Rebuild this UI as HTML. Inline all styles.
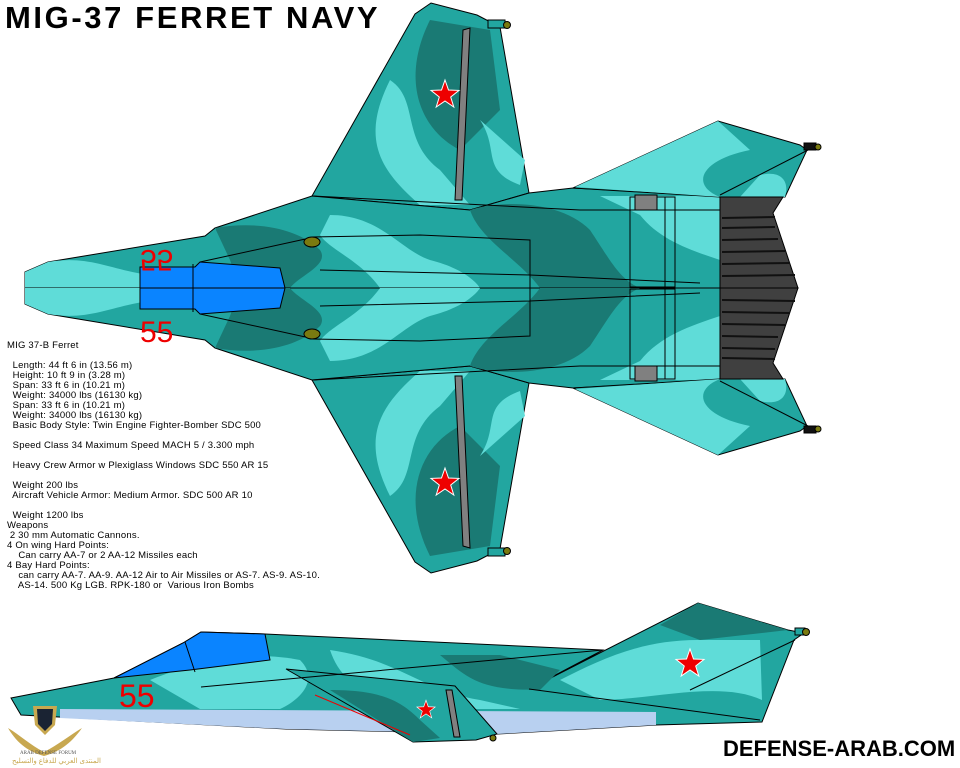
<!DOCTYPE html>
<html><head><meta charset="utf-8"><style>
body{margin:0;background:#fff;width:960px;height:768px;overflow:hidden;position:relative;font-family:"Liberation Sans",sans-serif}
.t{position:absolute;left:0;top:0}
#title{position:absolute;left:5px;top:0px;font:bold 31px "Liberation Sans",sans-serif;letter-spacing:2.6px;color:#000}
#site{position:absolute;left:723px;top:736px;font:bold 22px "Liberation Sans",sans-serif;color:#000}
#spec{position:absolute;left:7px;top:341px;font:9.5px/10px "Liberation Sans",sans-serif;letter-spacing:0.2px;color:#000;white-space:pre}
</style></head><body>
<svg class="t" width="960" height="768" viewBox="0 0 960 768">
<defs>
<g id="half" stroke="#000" stroke-width="1">
 <polygon points="312,196 415,14 431,3 477,15 500,27 529,193 470,210" fill="#22a6a0"/>
 <path d="M430,20 C400,80 420,130 460,150 L500,110 L490,30Z" fill="#1a7a74" stroke="none"/>
 <path d="M390,80 C420,100 400,140 440,170 L470,205 L420,205 C380,170 360,140 390,80Z" fill="#5fdcd8" stroke="none"/>
 <path d="M480,120 C500,150 480,170 520,185 L525,160Z" fill="#5fdcd8" stroke="none"/>
 <polygon points="463,30 470,28 462,200 455,200" fill="#808080"/>
 <polygon points="25,288 25,272 48,262 205,236 215,228 312,196 470,210 529,193 573,188 720,196 720,288" fill="#22a6a0"/>
 <path d="M48,262 C90,255 110,270 150,275 L140,288 L25,288 25,272Z" fill="#5fdcd8" stroke="none"/>
 <path d="M215,228 C260,220 300,230 320,250 C330,265 300,275 290,288 L240,288 L230,260Z" fill="#1a7a74" stroke="none"/>
 <path d="M330,215 C380,215 400,250 430,260 C470,270 480,288 480,288 L380,288 C360,260 330,250 320,235Z" fill="#5fdcd8" stroke="none"/>
 <path d="M470,210 C500,200 560,200 590,230 C610,260 620,280 640,288 L540,288 C520,260 480,240 470,210Z" fill="#1a7a74" stroke="none"/>
 <path d="M600,196 L720,196 L720,260 C690,250 660,240 640,215Z" fill="#5fdcd8" stroke="none"/>
 <polygon points="140,288 140,267 195,267 200,262 280,268 285,288" fill="#0a84ff"/>
 <line x1="193" y1="264" x2="193" y2="288"/>
 <polyline points="312,237 420,235 530,240 530,288" fill="none"/>
 <polyline points="320,270 530,275 700,283" fill="none"/>
 <rect x="630" y="197" width="45" height="90" fill="none"/>
 <rect x="635" y="195" width="22" height="15" fill="#808080"/>
 <line x1="665" y1="197" x2="665" y2="288"/>
 <polyline points="313,196 580,210 720,210" fill="none"/>
 <polyline points="310,238 200,262" fill="none"/>
 <ellipse cx="312" cy="242" rx="8" ry="5" fill="#7a7a10"/>
 <polygon points="573,188 718,121 800,145 807,150 785,197 720,197" fill="#22a6a0"/>
 <path d="M575,187 L718,121 L750,150 C700,160 690,185 720,197Z" fill="#5fdcd8" stroke="none"/>
 <path d="M760,175 C780,170 790,180 785,197 L740,197Z" fill="#5fdcd8" stroke="none"/>
 <line x1="808" y1="150" x2="720" y2="195"/>
 <rect x="804" y="143" width="12" height="7" fill="#111"/>
 <circle cx="818" cy="147" r="3" fill="#7a7a10"/>
 <polygon points="488,20 505,20 505,28 488,28" fill="#22a6a0"/>
 <circle cx="507" cy="25" r="3.5" fill="#7a7a10"/>
 <polygon points="720,197 783,197 773,213 798,288 720,288" fill="#404040"/>
 <g stroke="#111" stroke-width="2"><line x1="722" y1="218" x2="775" y2="217"/><line x1="722" y1="228" x2="775" y2="227"/><line x1="722" y1="240" x2="778" y2="239"/><line x1="722" y1="252" x2="785" y2="251"/><line x1="722" y1="264" x2="790" y2="263"/><line x1="722" y1="276" x2="795" y2="275"/></g>
</g>
<polygon id="star" points="0,-15 3.5,-5 14,-4.6 5.7,2 8.8,12 0,6 -8.8,12 -5.7,2 -14,-4.6 -3.5,-5" fill="#e00" stroke="#fff" stroke-width="1"/>
</defs>
<use href="#half"/>
<g transform="translate(0,576) scale(1,-1)"><use href="#half"/></g>
<use href="#star" x="445" y="95"/>
<use href="#star" x="445" y="483"/>
<text x="140" y="262" font-family="Liberation Sans" font-size="30" fill="#e00" transform="translate(0,512) scale(1,-1)">55</text>
<text x="140" y="342" font-family="Liberation Sans" font-size="30" fill="#e00">55</text>

<g stroke="#000" stroke-width="1">
 <polygon points="11,698 114,678 183,643 201,632 265,634 603,650 529,689 698,603 788,630 804,633 794,640 762,722 656,725 497,734 286,729 21,715 18,710" fill="#22a6a0"/>
 <polygon points="60,709 656,712 656,725 497,734 286,729 60,718" fill="#b8d0f0" stroke="none"/>
 <path d="M150,680 C200,660 250,650 300,660 C320,680 300,700 280,709 L200,709Z" fill="#5fdcd8" stroke="none"/>
 <path d="M330,650 C400,660 420,690 480,700 L520,709 L400,709 C360,690 340,680 330,650Z" fill="#5fdcd8" stroke="none"/>
 <path d="M560,680 C600,660 640,640 698,640 L760,640 L762,700 C720,680 650,700 600,700Z" fill="#5fdcd8" stroke="none"/>
 <path d="M698,603 L788,630 L700,640 L660,625Z" fill="#1a7a74" stroke="none"/>
 <path d="M440,655 C470,680 480,690 540,690 L560,670 L500,655Z" fill="#1a7a74" stroke="none"/>
 <polygon points="114,678 183,643 201,632 265,634 270,660 190,670" fill="#0a84ff"/>
 <line x1="185" y1="642" x2="195" y2="672"/>
 <polygon points="286,669 413,742 476,740 497,734 455,686" fill="#22a6a0"/>
 <path d="M330,690 C380,690 400,700 420,720 L440,738 L413,742Z" fill="#1a7a74" stroke="none"/>
 <polygon points="446,690 452,690 460,737 454,737" fill="#808080"/>
 <line x1="201" y1="687" x2="603" y2="650"/>
 <line x1="529" y1="689" x2="760" y2="720"/>
 <line x1="690" y1="690" x2="795" y2="640"/>
 <rect x="795" y="628" width="10" height="7" fill="#22a6a0"/>
 <circle cx="806" cy="632" r="3.5" fill="#7a7a10"/>
 <circle cx="493" cy="738" r="3" fill="#7a7a10"/>
 <line x1="315" y1="695" x2="410" y2="735" stroke="#e00"/>
</g>
<text x="119" y="707" font-family="Liberation Sans" font-size="32" fill="#e00">55</text>
<use href="#star" x="690" y="664"/>
<g transform="translate(426,710) scale(0.65)"><use href="#star"/></g>
<path d="M33,706 L57,706 L55,725 L45,735 L35,725Z" fill="#c8a850"/>
<path d="M37,709 L53,709 L52,724 L45,731 L38,724Z" fill="#1a2333"/>
<path d="M8,728 C20,735 30,745 44,752 C58,745 70,735 82,728 C70,745 58,752 44,756 C30,752 18,745 8,728Z" fill="#c8a850"/>
<text x="20" y="754" font-family="Liberation Serif" font-size="5" fill="#555">ARAB DEFENSE FORUM</text>
<text x="12" y="763" font-family="Liberation Sans" font-size="7" fill="#c8a850">المنتدى العربي للدفاع والتسليح</text>
</svg>
<div id="title">MIG-37 FERRET NAVY</div>
<div id="spec">MIG 37-B Ferret

  Length: 44 ft 6 in (13.56 m)
  Height: 10 ft 9 in (3.28 m)
  Span: 33 ft 6 in (10.21 m)
  Weight: 34000 lbs (16130 kg)
  Span: 33 ft 6 in (10.21 m)
  Weight: 34000 lbs (16130 kg)
  Basic Body Style: Twin Engine Fighter-Bomber SDC 500

  Speed Class 34 Maximum Speed MACH 5 / 3.300 mph

  Heavy Crew Armor w Plexiglass Windows SDC 550 AR 15

  Weight 200 lbs
  Aircraft Vehicle Armor: Medium Armor. SDC 500 AR 10

  Weight 1200 lbs
Weapons
 2 30 mm Automatic Cannons.
4 On wing Hard Points:
    Can carry AA-7 or 2 AA-12 Missiles each
4 Bay Hard Points:
    can carry AA-7. AA-9. AA-12 Air to Air Missiles or AS-7. AS-9. AS-10.
    AS-14. 500 Kg LGB. RPK-180 or  Various Iron Bombs</div>
<div id="site">DEFENSE-ARAB.COM</div>
</body></html>
